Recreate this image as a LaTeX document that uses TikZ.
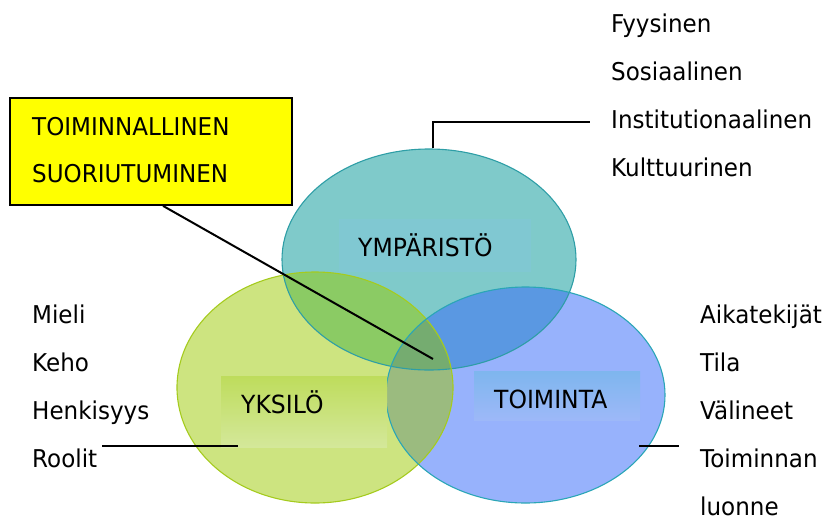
\documentclass[tikz,border=0pt]{standalone}
\usepackage{fontspec}
\setmainfont{DejaVu Sans}[FakeStretch=0.94]
\usetikzlibrary{calc,shapes.geometric}
\definecolor{topc}{HTML}{7FCACA}
\definecolor{leftc}{HTML}{CDE480}
\definecolor{rightc}{HTML}{97B2FC}
\definecolor{tlc}{HTML}{8BCB64}
\definecolor{trc}{HTML}{5A98E2}
\definecolor{lrc}{HTML}{9BBB7F}
\definecolor{allc}{HTML}{75AC70}
\definecolor{topedge}{HTML}{2E9EA6}
\definecolor{leftedge}{HTML}{A5CB1E}
\definecolor{rightedge}{HTML}{2AA6B6}
\definecolor{ybg}{HTML}{FFFF00}
\newcommand{\ptop}{(429pt,-259.5pt) ellipse [x radius=147pt, y radius=110.5pt]}
\newcommand{\pleft}{(315pt,-387.5pt) ellipse [x radius=138pt, y radius=115.5pt]}
\newcommand{\pright}{(525.5pt,-395pt) ellipse [x radius=139.5pt, y radius=108pt]}
\tikzset{
  txt/.style={anchor=base west, inner sep=0pt, font=\fontsize{24.5}{28}\selectfont},
  lbl/.style={anchor=base west, inner sep=0pt, font=\fontsize{25}{28}\selectfont},
  conn/.style={draw=black, line width=2pt},
  ring/.style={ellipse, inner sep=0pt, line width=1.1pt},
}
\begin{document}
\begin{tikzpicture}[x=1pt,y=-1pt]
\useasboundingbox (0,0) rectangle (824,520);
% fills
\fill[topc] \ptop;
\fill[leftc] \pleft;
\fill[rightc] \pright;
\begin{scope}\clip \ptop; \fill[tlc] \pleft; \end{scope}
\begin{scope}\clip \ptop; \fill[trc] \pright; \end{scope}
\begin{scope}\clip \pleft; \fill[lrc] \pright; \end{scope}
\begin{scope}\clip \ptop; \clip \pleft; \fill[allc] \pright; \end{scope}
% outlines as named nodes
\node[ring, draw=topedge, minimum width=294pt, minimum height=221pt] (etop) at (429,259.5) {};
\node[ring, draw=leftedge, minimum width=276pt, minimum height=231pt] (eleft) at (315,387.5) {};
\node[ring, draw=rightedge, minimum width=279pt, minimum height=216pt] (eright) at (525.5,395) {};
% label boxes
\node[rectangle, inner sep=0pt, minimum width=192pt, minimum height=53pt, fill={rgb,255:red,128;green,200;blue,210}] (bymp) at (435,245.5) {};
\node[rectangle, inner sep=0pt, minimum width=166pt, minimum height=71pt, top color={rgb,255:red,190;green,220;blue,92}, bottom color={rgb,255:red,212;green,232;blue,154}] (byks) at (304,411.5) {};
\node[rectangle, inner sep=0pt, minimum width=166pt, minimum height=49pt, top color={rgb,255:red,126;green,182;blue,238}, bottom color={rgb,255:red,157;green,184;blue,248}] (btoi) at (557,395.5) {};
\node[lbl] (tymp) at (358,256) {YMPÄRISTÖ};
\node[lbl] (tyks) at (241,413) {YKSILÖ};
\node[lbl] (ttoi) at (494,408) {TOIMINTA};
% yellow box
\node[rectangle, draw=black, line width=1.7pt, fill=ybg, minimum width=282pt, minimum height=107pt, inner sep=0pt] (ybox) at (151,151.5) {};
\node[txt] (y1) at (32,135) {TOIMINNALLINEN};
\node[txt] (y2) at (32,182) {SUORIUTUMINEN};
% right top list
\node[txt] (r1) at (611,32) {Fyysinen};
\node[txt] (r2) at (611,80) {Sosiaalinen};
\node[txt] (r3) at (611,128) {Institutionaalinen};
\node[txt] (r4) at (611,176) {Kulttuurinen};
% left list
\node[txt] (l1) at (32,323) {Mieli};
\node[txt] (l2) at (32,371) {Keho};
\node[txt] (l3) at (32,419) {Henkisyys};
\node[txt] (l4) at (32,467) {Roolit};
% right list
\node[txt] (q1) at (700,323) {Aikatekijät};
\node[txt] (q2) at (700,371) {Tila};
\node[txt] (q3) at (700,419) {Välineet};
\node[txt] (q4) at (700,467) {Toiminnan};
\node[txt] (q5) at (700,515) {luonne};
% connectors
\coordinate (focus) at (433,359);
\coordinate (topend) at (590,122);
\coordinate (lA) at (102,446);
\coordinate (lB) at (238,446);
\coordinate (rA) at (639,446);
\coordinate (rB) at (679,446);
\draw[conn] ($(ybox.south)+(12,0)$) -- (focus);
\draw[conn] ($(etop.north)+(4,0)$) |- (topend);
\draw[conn] (lA) -- (lB);
\draw[conn] (rA) -- (rB);
\end{tikzpicture}
\end{document}
